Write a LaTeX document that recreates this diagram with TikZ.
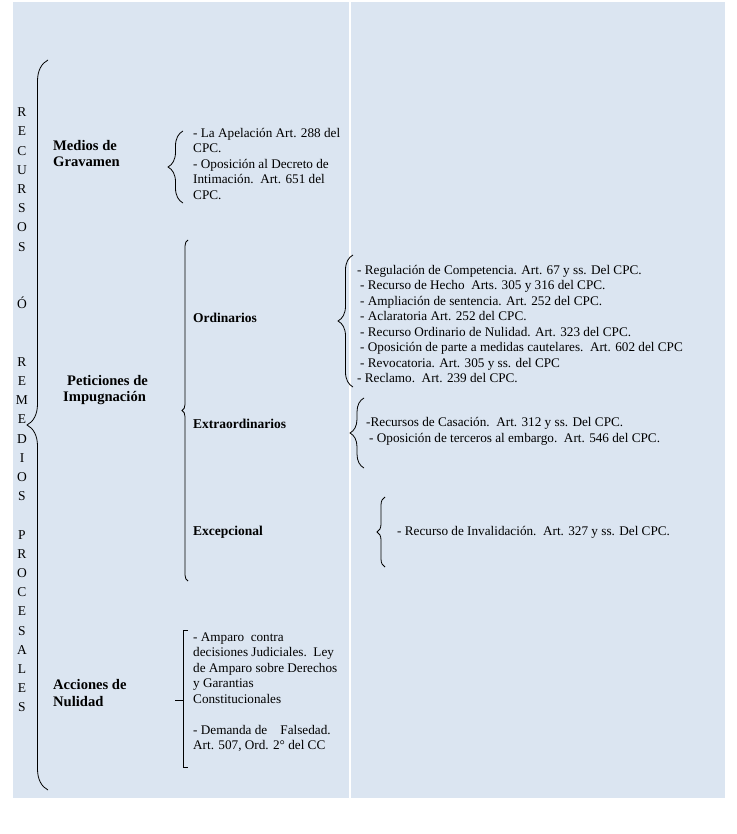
\documentclass[tikz,border=0pt]{standalone}
\usepackage{fontspec}
\setmainfont{Liberation Serif}
\usetikzlibrary{decorations.pathreplacing}
\definecolor{fondo}{RGB}{219,229,241}

\begin{document}
\begin{tikzpicture}[x=1pt, y=-1pt,
        texto/.style={font=\fontsize{13.2}{15.5}\selectfont, align=left, anchor=west, inner sep=0pt},
        titulo/.style={font=\bfseries\fontsize{14.6}{16.5}\selectfont, align=left, anchor=west, inner sep=0pt},
        subtitulo/.style={font=\bfseries\fontsize{13.5}{15}\selectfont, anchor=west, inner sep=0pt},
        letras/.style={font=\fontsize{13.5}{19.2}\selectfont, align=center, inner sep=0pt},
        llave/.style={draw, line width=0.8pt, decorate, decoration={brace, amplitude=#1}},
    ]
        \useasboundingbox (0,0) rectangle (736,834);
        % Two light blue panels
        \fill[fondo] (13,2) rectangle (349,798);
        \fill[fondo] (351,2) rectangle (725,798);

        % Vertical title
        \node[letras] (letras) at (22,410) {R\\E\\C\\U\\R\\S\\O\\S\\[38.4pt]Ó\\[38.4pt]R\\E\\M\\E\\D\\I\\O\\S\\[19.2pt]P\\R\\O\\C\\E\\S\\A\\L\\E\\S};
        \draw[llave=21] (48,790) -- (48,60);

        % First level
        \node[titulo] (medios)     at (53,153.5) {Medios de\\Gravamen};
        \node[titulo] (peticiones) at (63,390)   {\hspace*{4pt}Peticiones de\\Impugnación};
        \node[titulo] (acciones)   at (53,693)   {Acciones de\\Nulidad};

        % Medios de gravamen
        \draw[llave=15] (183,203) -- (183,131);
        \node[texto] (medL) at (193,164) {- La Apelación Art. 288 del\\CPC.\\- Oposición al Decreto de\\Intimación.\ \ Art. 651 del\\CPC.};

        % Peticiones de impugnacion
        \draw[llave=6] (188,581) -- (188,240);
        \node[subtitulo] (ordinarios) at (193,318) {Ordinarios};
        \node[subtitulo] (extra)      at (193,424) {Extraordinarios};
        \node[subtitulo] (excep)      at (193,532) {Excepcional};

        \draw[llave=15] (353,387) -- (353,255);
        \node[texto] (ordL) at (357,324) {- Regulación de Competencia. Art. 67 y ss. Del CPC.\\
            \hspace*{3pt}- Recurso de Hecho\ \ Arts. 305 y 316 del CPC.\\
            \hspace*{3pt}- Ampliación de sentencia. Art. 252 del CPC.\\
            \hspace*{3pt}- Aclaratoria Art. 252 del CPC.\\
            \hspace*{3pt}- Recurso Ordinario de Nulidad. Art. 323 del CPC.\\
            \hspace*{3pt}- Oposición de parte a medidas cautelares.\ \ Art. 602 del CPC\\
            \hspace*{3pt}- Revocatoria. Art. 305 y ss. del CPC\\
            - Reclamo.\ \ Art. 239 del CPC.};

        \draw[llave=14] (364,468) -- (364,398);
        \node[texto] (extL) at (366,431.5) {-Recursos de Casación.\ \ Art. 312 y ss. Del CPC.\\
            \hspace*{3pt}- Oposición de terceros al embargo.\ \ Art. 546 del CPC.};

        \draw[llave=8] (385,567) -- (385,497);
        \node[texto] (excL) at (397,532) {- Recurso de Invalidación.\ \ Art. 327 y ss. Del CPC.};

        % Acciones de nulidad
        \draw[line width=0.8pt] (188,630) -| (183,767) -- (188,767);
        \draw[line width=0.8pt] (183,700) -- (175,700);
        \node[texto] (accL) at (193,692) {- Amparo\ \ contra\\decisiones Judiciales.\ \ Ley\\de Amparo sobre Derechos\\y Garantias\\Constitucionales\\[15.5pt]- Demanda de\ \ \ \ Falsedad.\\Art. 507, Ord. 2° del CC};
    \end{tikzpicture}
\end{document}
